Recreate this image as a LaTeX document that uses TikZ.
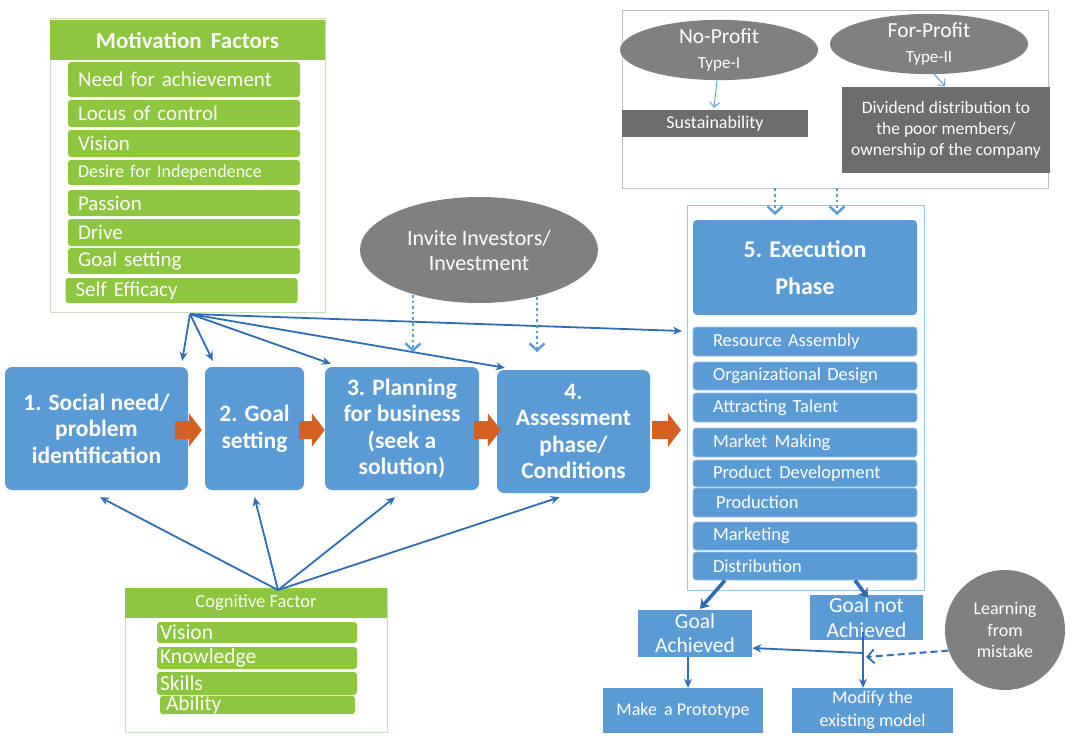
\documentclass[tikz,border=0pt]{standalone}
\usepackage{fontspec}
\setmainfont{Carlito}
\usetikzlibrary{arrows.meta,shapes.geometric,calc}
\definecolor{cBlue}{RGB}{91,155,213}
\definecolor{cBlueLine}{RGB}{157,195,230}
\definecolor{cDark}{RGB}{46,109,180}
\definecolor{cGreen}{RGB}{141,198,63}
\definecolor{cGreenLine}{RGB}{197,224,180}
\definecolor{cGrayEll}{RGB}{128,128,128}
\definecolor{cGrayBox}{RGB}{108,108,108}
\definecolor{cOrange}{RGB}{214,96,34}
\newcommand\fsz[2]{\fontsize{#1}{#2}\selectfont}
\tikzset{
  stagebox/.style={rectangle, inner sep=0pt, fill=cBlue, rounded corners=7pt, text=white, align=center, font=\bfseries\fsz{23.5}{26.5}},
  gitem/.style={rectangle, fill=cGreen, rounded corners=3pt, text=white, inner ysep=0pt, align=left},
  mitem/.style={gitem, inner xsep=10pt, text width=212pt, minimum width=232pt, font=\fsz{21}{24}},
  citem/.style={gitem, inner xsep=3pt, text width=194pt, minimum width=200pt, font=\fsz{21.5}{22}},
  eitem/.style={rectangle, fill=cBlue, draw=cBlueLine, line width=0.6pt, rounded corners=3pt, text=white, inner ysep=0pt, inner xsep=20pt, text width=184pt, minimum width=224pt, align=left, font=\fsz{18.5}{20}},
  plainbox/.style={rectangle, inner sep=0pt, fill=cBlue, text=white, align=center},
  grayell/.style={ellipse, inner sep=0pt, fill=cGrayEll, text=white, align=center},
  graybox/.style={rectangle, inner sep=0pt, fill=cGrayBox, text=white, align=center},
  frame/.style={rectangle, inner sep=0pt, fill=white},
  darr/.style={draw=cDark, line width=1.8pt, -{Stealth[length=9pt,width=8pt]}},
  thickarr/.style={draw=cDark, line width=3.6pt, -{Stealth[length=9pt,width=12pt]}},
  orarr/.style={draw=cOrange, line width=18pt, -{Triangle[length=13pt,width=33pt]}},
  dotarr/.style={draw=cBlue, line width=2.6pt, dash pattern=on 2.6pt off 3pt, -{Straight Barb[length=7pt,width=15pt,line width=2.4pt]}},
  thinarr/.style={draw=cBlue, line width=0.9pt, -{Straight Barb[length=5pt,width=10pt]}},
}
\begin{document}
\begin{tikzpicture}[x=1pt,y=-1pt]
\useasboundingbox (0,0) rectangle (1086,742);
% ---------- Motivation factors
\node[frame, draw=cGreenLine, line width=0.8pt, minimum width=275pt, minimum height=294pt] (mot) at (187.5,165) {};
\node[rectangle, fill=cGreen, minimum width=275pt, minimum height=40pt, inner sep=0pt, text=white, font=\bfseries\fsz{23}{26}] (motT) at (187.5,40) {Motivation\hspace{0.4em}Factors};
\node[mitem, minimum height=35pt] (m1) at (184,79.5) {Need for achievement};
\node[mitem, minimum height=27pt] (m2) at (184,113.5) {Locus of control};
\node[mitem, minimum height=27pt] (m3) at (184,143.5) {Vision};
\node[mitem, minimum height=25pt, font=\fsz{18}{20}] (m4) at (184,172.5) {Desire for Independence};
\node[mitem, minimum height=26pt] (m5) at (184,203) {Passion};
\node[mitem, minimum height=27pt] (m6) at (184,232.5) {Drive};
\node[mitem, minimum height=26pt] (m7) at (184,261) {Goal setting};
\node[mitem, minimum height=25pt] (m8) at (181.5,290.5) {Self Efficacy};
% ---------- Stage boxes
\node[stagebox, minimum width=183pt, minimum height=123pt] (b1) at (96.5,428.5) {1. Social need/\\problem\\identification};
\node[stagebox, minimum width=99pt, minimum height=123pt] (b2) at (254.5,428.5) {2. Goal\\setting};
\node[stagebox, minimum width=154pt, minimum height=123pt] (b3) at (402,428.5) {3. Planning\\for business\\(seek a\\solution)};
\node[stagebox, minimum width=153pt, minimum height=123pt] (b4) at (573.5,431.5) {4.\\Assessment\\phase/\\Conditions};
% ---------- Investors
\node[grayell, minimum width=238pt, minimum height=106pt, font=\fsz{22}{25}] (inv) at (479,250) {Invite Investors/\\Investment};
% ---------- Top right frame
\node[frame, draw=black!25, line width=0.8pt, minimum width=426pt, minimum height=178pt] (tr) at (835,99) {};
\node[grayell, minimum width=198pt, minimum height=58pt, font=\fsz{21.5}{23}] (np) at (719,50) {No-Profit\\[2pt]{\fsz{17}{18}Type-I}};
\node[grayell, minimum width=198pt, minimum height=58pt, font=\fsz{21.5}{23}] (fp) at (929,44) {For-Profit\\[2pt]{\fsz{17}{18}Type-II}};
\node[graybox, minimum width=186pt, minimum height=27pt, font=\fsz{18}{20}] (sus) at (715,123.5) {Sustainability};
\node[graybox, minimum width=208pt, minimum height=86pt, font=\fsz{17.5}{21}] (div) at (946,130) {Dividend distribution to\\the poor members/\\ownership of the company};
% ---------- Execution
\node[frame, draw=cBlueLine, line width=1pt, minimum width=237pt, minimum height=385pt] (exo) at (805.5,397.5) {};
\node[plainbox, rounded corners=4pt, minimum width=224pt, minimum height=95pt, font=\bfseries\fsz{24}{37}] (ext) at (805,267.5) {5. Execution\\Phase};
\node[eitem, minimum height=29pt] (e1) at (805,341.5) {Resource Assembly};
\node[eitem, minimum height=28pt] (e2) at (805,376) {Organizational Design};
\node[eitem, minimum height=29pt] (e3) at (805,407.5) {Attracting Talent};
\node[eitem, minimum height=29pt] (e4) at (805,442.5) {Market\hspace{0.4em}Making};
\node[eitem, minimum height=27pt] (e5) at (805,473.5) {Product\hspace{0.4em}Development};
\node[eitem, minimum height=29pt] (e6) at (805,502.5) {\hspace{3pt}Production};
\node[eitem, minimum height=28pt] (e7) at (805,536) {Marketing};
\node[eitem, minimum height=28pt] (e8) at (805,566) {Distribution};
% ---------- Outcomes
\node[plainbox, minimum width=114pt, minimum height=47pt, font=\fsz{21.5}{24}] (ga) at (695,633.5) {Goal\\Achieved};
\node[plainbox, minimum width=113pt, minimum height=45pt, font=\fsz{21.5}{25}] (gna) at (866.5,617.5) {Goal not\\Achieved};
\node[circle, fill=cGrayEll, minimum size=120pt, inner sep=0pt, text=white, align=center, font=\fsz{18}{21.5}] (lm) at (1005,630) {Learning\\from\\mistake};
\node[plainbox, minimum width=160pt, minimum height=45pt, font=\fsz{18}{20}] (mp) at (683,710.5) {Make\hspace{0.4em}a Prototype};
\node[plainbox, minimum width=161pt, minimum height=45pt, font=\fsz{18}{23}] (mm) at (872.5,710.5) {Modify the\\existing model};
% ---------- Cognitive
\node[frame, draw=cGreenLine, line width=0.8pt, minimum width=262pt, minimum height=144pt] (cog) at (256,660) {};
\node[rectangle, fill=cGreen, minimum width=262pt, minimum height=30pt, inner sep=0pt, text=white, font=\fsz{18.5}{20}] (cogT) at (256,603) {Cognitive Factor};
\node[citem, minimum height=21pt] (c1) at (257,632.5) {Vision};
\node[citem, minimum height=22pt] (c2) at (257,658) {Knowledge};
\node[citem, minimum height=23pt] (c3) at (257,683.5) {Skills};
\node[citem, minimum height=16pt, minimum width=195pt, text width=189pt, inner xsep=3pt] (c4) at (257.5,705) {\hspace{3pt}Ability};
% ---------- Orange flow arrows
\draw[orarr] ([xshift=-13pt,yshift=-1.5pt]b1.east) -- ([xshift=-3pt,yshift=-1.5pt]b2.west);
\draw[orarr] ([xshift=-5pt,yshift=-1.5pt]b2.east) -- ([xshift=0pt,yshift=-1.5pt]b3.west);
\draw[orarr] ([xshift=-5pt,yshift=-1.5pt]b3.east) -- ([xshift=4pt,yshift=1.5pt]b4.west);
\coordinate (exl) at (681,430);
\draw[orarr] ([xshift=2pt,yshift=1.5pt]b4.east) -- (exl);
% ---------- Motivation fan
\coordinate (mfs) at (190,314);
\coordinate (exin) at (682,331);
\draw[darr] (mfs) -- ([xshift=-6pt,yshift=6pt]b1.north east);
\draw[darr] (mfs) -- ([xshift=8pt,yshift=6pt]b2.north west);
\draw[darr] (mfs) -- ([xshift=6pt,yshift=3pt]b3.north west);
\draw[darr] (mfs) -- ([xshift=8pt,yshift=2pt]b4.north west);
\draw[darr] (mfs) -- (exin);
% ---------- Cognitive fan
\coordinate (cfs) at (278,590);
\draw[darr] (cfs) -- ([xshift=3.5pt,yshift=-7pt]b1.south);
\draw[darr] (cfs) -- ([yshift=-7pt]b2.south);
\draw[darr] (cfs) -- ([xshift=-7pt,yshift=-7pt]b3.south);
\draw[darr] (cfs) -- ([xshift=-14pt,yshift=-4pt]b4.south);
% ---------- Investor dotted arrows
\coordinate (iv1) at (413,352);
\coordinate (iv2) at (537,352);
\draw[dotarr] ($(inv.center)+(-66,45)$) -- (iv1);
\draw[dotarr] ($(inv.center)+(58,47)$) -- (iv2);
% ---------- Top right arrows
\draw[thinarr] ([xshift=-2pt]np.south) -- ([xshift=-1pt,yshift=2pt]sus.north);
\coordinate (fpa) at (933,73);
\draw[thinarr] (fpa) -- ([xshift=-1pt,yshift=1pt]div.north);
\coordinate (tx1) at (775,215);
\coordinate (tx2) at (837,215);
\draw[dotarr] (tr.south -| tx1) -- (tx1);
\draw[dotarr] (tr.south -| tx2) -- (tx2);
% ---------- Outcome arrows
\draw[thickarr] ([xshift=-80pt]e8.south) -- ([xshift=5pt,yshift=1pt]ga.north);
\draw[thickarr] ([xshift=50pt]e8.south) -- ([xshift=1.5pt,yshift=-3pt]gna.north);
\draw[darr] ([xshift=-7pt]ga.south) -- ([xshift=5pt]mp.north);
\draw[darr] ([xshift=-3.5pt,yshift=8pt]gna.south) -- ([xshift=-9.5pt]mm.north);
\coordinate (jn) at (863,653);
\draw[darr] (jn) -- ([yshift=-14.5pt]ga.east);
\coordinate (lme) at (866,657);
\draw[draw=cDark, line width=2pt, dash pattern=on 7pt off 4pt, -{Straight Barb[length=7pt,width=14pt,line width=1.8pt]}] (lm.200) -- (lme);
\end{tikzpicture}
\end{document}
